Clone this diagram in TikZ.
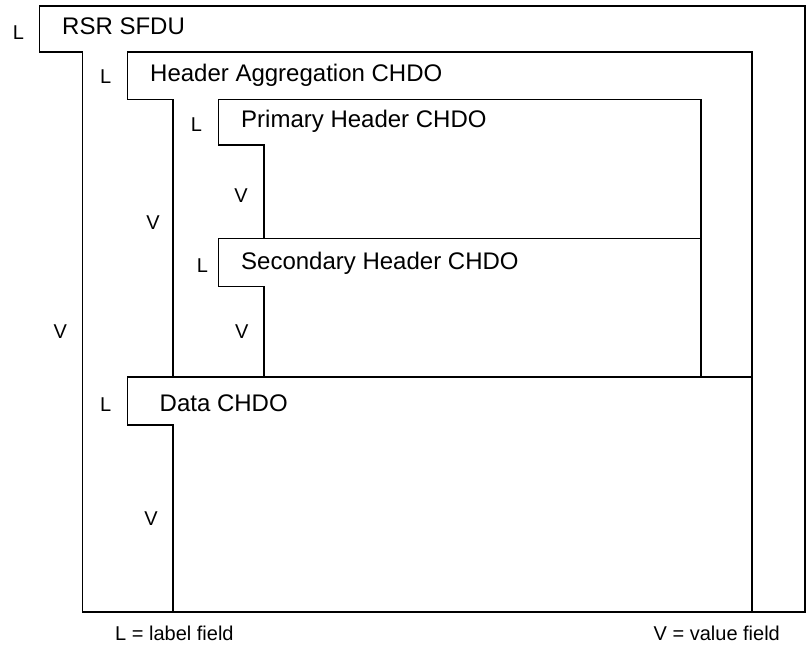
\documentclass[tikz,border=0pt]{standalone}
\usepackage{fontspec}
\setmainfont{Liberation Sans}
\usepackage{tikz}

\tikzset{
  frame/.style={draw=black, line width=1.8pt, line join=miter},
  title/.style={anchor=base west, inner sep=0pt, font=\fontsize{24}{28}\selectfont},
  fld/.style={anchor=base west, inner sep=0pt, font=\fontsize{20}{24}\selectfont},
  fldc/.style={anchor=base, inner sep=0pt, font=\fontsize{20}{24}\selectfont}
}

\begin{document}
\begin{tikzpicture}[x=1pt,y=-1pt]
    \useasboundingbox (0,0) rectangle (807,649);

    % outlines
    \draw[frame] (39.5,6) -- (805,6) -- (805,612) -- (82.5,612) -- (82.5,52) -- (39.5,52) -- cycle;
    \draw[frame] (127.5,52) -- (752,52) -- (752,377) -- (173,377) -- (173,99.5) -- (127.5,99.5) -- cycle;
    \draw[frame] (218.5,99.5) -- (701,99.5) -- (701,238.5) -- (264,238.5) -- (264,145) -- (218.5,145) -- cycle;
    \draw[frame] (218.5,238.5) -- (701,238.5) -- (701,377) -- (264,377) -- (264,286.5) -- (218.5,286.5) -- cycle;
    \draw[frame] (127.5,377) -- (752,377) -- (752,612) -- (173,612) -- (173,425) -- (127.5,425) -- cycle;

    \node[title] (sfdu) at (62,34.5) {RSR SFDU};
    \node[title] (hagg) at (150,81) {Header Aggregation CHDO};
    \node[title] (prim) at (241,127.7) {Primary Header CHDO};
    \node[title] (sec)  at (241,269.5) {Secondary Header CHDO};
    \node[title] (data) at (159.5,411) {Data CHDO};

    \node[fld] (sfduL) at (12.7,39.5) {L};
    \node[fld] (haggL) at (100,83.3) {L};
    \node[fld] (primL) at (190.7,131) {L};
    \node[fld] (secL)  at (196.7,272.3) {L};
    \node[fld] (dataL) at (100,411) {L};

    \node[fldc] (sfduV) at (60.3,338.3) {V};
    \node[fldc] (haggV) at (153,229) {V};
    \node[fldc] (primV) at (241,202) {V};
    \node[fldc] (secV)  at (241.7,338.3) {V};
    \node[fldc] (dataV) at (151,525) {V};

    \node[fld] (keyL) at (115,640.3) {L = label field};
    \node[fld] (keyV) at (653.5,640.3) {V = value field};
\end{tikzpicture}
\end{document}
